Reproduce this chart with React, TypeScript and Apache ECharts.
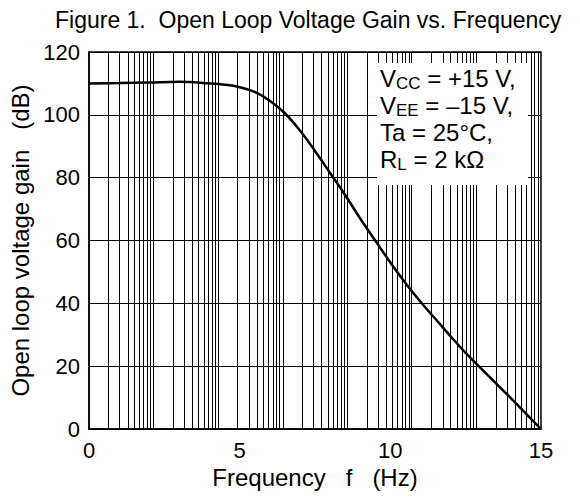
import React, { useEffect, useRef } from "react";
import * as echarts from "echarts";

const titleText = "Figure 1.  Open Loop Voltage Gain vs. Frequency";
const xName = "Frequency   f   (Hz)";
const yName = "Open loop voltage gain   (dB)";

const xMin = 0;
const xMax = 15;
const xInterval = 5;
const yMin = 0;
const yMax = 120;
const yInterval = 20;

// log grid: 7 decades mapped over the 0..15 axis
const decadeCount = 7;
const decadeMultipliers = [1, 2, 3, 4, 5, 6, 7, 8, 9];

const curveX = [0, 1, 2, 3, 4, 4.5, 5, 5.5, 6, 6.5, 7, 7.5, 8, 8.5, 9, 9.5, 10, 10.5, 11, 11.5, 12, 12.5, 13, 13.5, 14, 14.5, 15];
const curveY = [110, 110.1, 110.3, 110.5, 110, 109.6, 108.8, 107.3, 104.5, 100.5, 95, 88.5, 81.5, 74.5, 67, 60, 53, 46.5, 40.5, 35, 29.5, 24.2, 19.4, 14.6, 9.8, 4.9, 0];

const conditionsText =
  "{m|V}{s|CC}{m| = +15 V,}\n{m|V}{s|EE}{m| = \u201315 V,}\n{m|Ta = 25\u00b0C,}\n{m|R}{s|L}{m| = 2 k\u03a9}";

const FONT = "'Liberation Sans', Arial, Helvetica, sans-serif";

export default function App() {
  const ref = useRef<HTMLDivElement>(null);

  useEffect(() => {
    if (!ref.current) return;
    const chart = echarts.init(ref.current, undefined, { renderer: "svg" });

    const gridLines: any[] = [];
    for (let d = 0; d < decadeCount; d++) {
      for (const k of decadeMultipliers) {
        const pos = ((d + Math.log10(k)) * (xMax - xMin)) / decadeCount + xMin;
        if (pos > xMin && pos < xMax) gridLines.push({ xAxis: pos });
      }
    }

    chart.setOption({
      animation: false,
      backgroundColor: "#ffffff",
      textStyle: { fontFamily: FONT, color: "#000" },
      title: {
        text: titleText,
        left: 50,
        top: 3,
        textStyle: { fontFamily: FONT, fontSize: 23, fontWeight: "normal", color: "#000" },
      },
      grid: {
        left: 87,
        right: 39,
        top: 52,
        bottom: 70,
        show: true,
        borderColor: "#000",
        borderWidth: 1.5,
        backgroundColor: "transparent",
      },
      xAxis: {
        type: "value",
        min: xMin,
        max: xMax,
        interval: xInterval,
        name: xName,
        nameLocation: "middle",
        nameGap: 36,
        nameTextStyle: { fontFamily: FONT, fontSize: 24, color: "#000" },
        axisLine: { show: true, lineStyle: { color: "#000", width: 1.5 } },
        axisTick: { show: false },
        axisLabel: { fontFamily: FONT, fontSize: 22, color: "#000", margin: 10 },
        splitLine: { show: false },
      },
      yAxis: {
        type: "value",
        min: yMin,
        max: yMax,
        interval: yInterval,
        name: yName,
        nameLocation: "middle",
        nameRotate: 90,
        nameGap: 57,
        nameTextStyle: { fontFamily: FONT, fontSize: 24, color: "#000" },
        axisLine: { show: true, lineStyle: { color: "#000", width: 1.5 } },
        axisTick: { show: false },
        axisLabel: { fontFamily: FONT, fontSize: 22, color: "#000", margin: 9 },
        splitLine: { show: true, lineStyle: { color: "#000", width: 1 } },
      },
      series: [
        {
          type: "line",
          data: [],
          silent: true,
          z: 1,
          markLine: {
            silent: true,
            symbol: "none",
            label: { show: false },
            lineStyle: { color: "#000", width: 1, type: "solid" },
            data: gridLines,
          },
        },
        {
          type: "line",
          data: curveX.map((x, i) => [x, curveY[i]]),
          smooth: 0.4,
          showSymbol: false,
          symbol: "none",
          z: 5,
          lineStyle: { color: "#000", width: 2.5 },
        },
      ],
      graphic: [
        {
          type: "rect",
          z: 100,
          shape: { x: 377, y: 63, width: 151, height: 122 },
          style: { fill: "#ffffff" },
        },
        {
          type: "text",
          z: 101,
          x: 380,
          y: 65,
          style: {
            text: conditionsText,
            fill: "#000",
            verticalAlign: "top",
            rich: {
              m: { fontFamily: FONT, fontSize: 24, lineHeight: 27, fill: "#000" },
              s: { fontFamily: FONT, fontSize: 17, lineHeight: 13, verticalAlign: "bottom", fill: "#000" },
            },
          },
        },
      ],
    });

    return () => chart.dispose();
  }, []);

  return <div ref={ref} style={{ width: 580, height: 499, margin: -8 }} />;
}
